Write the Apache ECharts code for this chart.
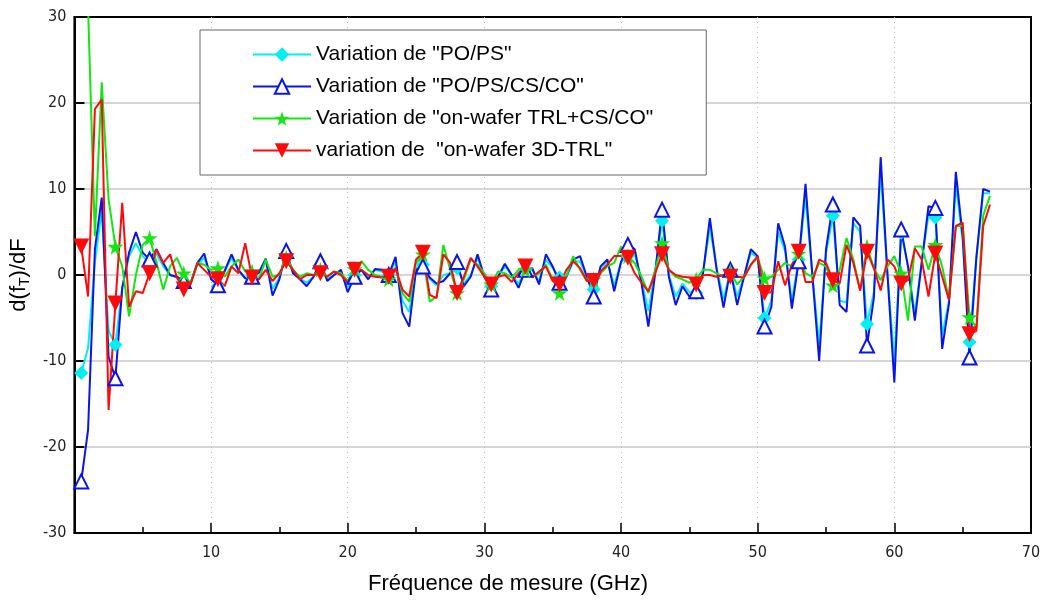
<!DOCTYPE html>
<html>
<head>
<meta charset="utf-8">
<script src="https://cdn.jsdelivr.net/npm/echarts@6/dist/echarts.min.js"></script>
<style>
  html, body { margin: 0; padding: 0; background: #fff; }
  #chart { width: 1047px; height: 606px; }
</style>
</head>
<body>
<div id="chart"></div>
<script>
// frequence de mesure (GHz)
var freq = [0.5, 1, 1.5, 2, 2.5, 3, 3.5, 4, 4.5, 5, 5.5, 6, 6.5, 7, 7.5, 8, 8.5, 9, 9.5, 10,
  10.5, 11, 11.5, 12, 12.5, 13, 13.5, 14, 14.5, 15, 15.5, 16, 16.5, 17, 17.5, 18, 18.5, 19, 19.5, 20,
  20.5, 21, 21.5, 22, 22.5, 23, 23.5, 24, 24.5, 25, 25.5, 26, 26.5, 27, 27.5, 28, 28.5, 29, 29.5, 30,
  30.5, 31, 31.5, 32, 32.5, 33, 33.5, 34, 34.5, 35, 35.5, 36, 36.5, 37, 37.5, 38, 38.5, 39, 39.5, 40,
  40.5, 41, 41.5, 42, 42.5, 43, 43.5, 44, 44.5, 45, 45.5, 46, 46.5, 47, 47.5, 48, 48.5, 49, 49.5, 50,
  50.5, 51, 51.5, 52, 52.5, 53, 53.5, 54, 54.5, 55, 55.5, 56, 56.5, 57, 57.5, 58, 58.5, 59, 59.5, 60,
  60.5, 61, 61.5, 62, 62.5, 63, 63.5, 64, 64.5, 65, 65.5, 66, 66.5, 67];

var poPs = [-11.4, -8.5, 1.5, 7.5, -6.5, -8.1, -1.5, 2.2, 3.7, 2.2, 1.4, 2.5, 1.0, 0, -0.3, -1.0, -1.0, 1.2, 2.0, -0.3,
  -1.3, 0.4, 2.0, 0.5, -0.3, -0.2, 0.2, 1.6, -1.6, -0.3, 2.5, 0.2, -0.4, -0.9, -0.2, 1.2, -0.5, 0, 0.5, -1.4,
  0, 0.6, -0.3, 0.6, 0.4, 0, 1.5, -3.0, -4.3, 0.8, 1.2, -0.5, -1.2, 0, 0.2, 0.8, -1.0, 0, 2.0, -0.2,
  -1.3, -0.2, 1.0, 0, -1.0, 0.6, 0.6, -0.7, 1.8, 0.8, -0.3, -0.2, 1.5, 1.6, -0.3, -1.7, 0.8, 1.5, -1.2, 1.5,
  2.2, 2.5, -0.5, -4.2, 0.5, 6.3, 0, -2.5, -1.0, -2.0, -2.1, 0.3, 5.5, 0.8, -2.8, 0.4, -2.5, -0.2, 2.6, 2.0,
  -5.0, -3.0, 5.0, 2.8, -3.0, 1.8, 9.0, 0, -8.0, 2.5, 6.9, -3.0, -3.2, 6.0, 5.0, -5.7, -2.0, 12, 0, -10,
  4.9, 1.0, -4.5, 1.5, 7.0, 6.7, -7.0, -3.0, 10.5, 4.0, -7.8, 2, 9.5, 9.5];

var poPsCsCo = [-24, -18, 3, 9, -9.5, -12, -1.5, 2.6, 5.0, 2.6, 1.8, 3.0, 1.4, 0, -0.2, -0.7, -0.9, 1.4, 2.5, -0.5,
  -1.2, 0.5, 2.4, 0.6, -0.4, -0.2, 0.3, 1.9, -2.4, -0.5, 2.8, 0.2, -0.5, -1.3, -0.2, 1.6, -0.7, 0, 0.6, -2.0,
  -0.2, 0.6, -0.5, 0.7, 0.6, 0, 2.1, -4.4, -6.0, 0.6, 1.0, -0.3, -1.0, -0.7, 0.2, 1.5, -1.3, -0.2, 2.4, -0.2,
  -1.7, -0.2, 1.3, 0, -1.5, 0.6, 0.8, -1.1, 2.4, 1.0, -0.9, -0.2, 1.8, 2.2, -0.2, -2.5, 1.0, 1.8, -1.9, 1.5,
  3.5, 3.0, -1.0, -6.0, 0.2, 7.6, -0.2, -3.5, -1.3, -2.5, -1.9, 0.2, 6.6, 0.6, -3.8, 0.6, -3.5, -0.2, 3.0, 2.2,
  -6.0, -3.7, 6.0, 3.3, -3.9, 1.6, 10.6, 0, -10, 3, 8.2, -3.5, -4.3, 6.7, 5.7, -8.2, -2.7, 13.7, 0, -12.5,
  5.3, 1.0, -5.3, 1.4, 8.0, 7.8, -8.6, -3.3, 12, 4.5, -9.6, 2, 10, 9.7];

var trlCsCo = [45, 31, 4.5, 22.4, 8.8, 3.3, 1.0, -4.8, 0, 3.5, 4.3, 1.5, -1.7, 1.0, 2.0, 0.2, -1.0, 1.4, 1.2, 0.6,
  0.8, -0.2, 1.0, 1.8, 0.4, 0.4, -0.5, 1.8, -0.2, 0, 2.0, 0.6, -0.2, 0.2, 0, 0.6, -0.2, 0.4, 0.2, -0.7,
  0.7, 1.6, 0.6, 0, -0.2, -0.5, 0.8, -2.1, -3.1, 1.4, 2.4, -3.1, -2.5, 3.5, 0.6, -2.1, -0.5, 1.8, 1.2, 0.2,
  -1.1, 0.4, 0.2, -0.3, 0.6, 0.6, -0.2, 0.2, 1.2, -0.5, -2.1, -0.2, 2.2, 0.6, -0.7, -0.5, 0.2, 1.0, 1.4, 3.3,
  2.2, 1.4, -0.2, -2.1, 0.6, 3.7, 0.6, -0.2, -0.5, -0.9, -0.5, 0.6, 0.6, 0.2, -0.2, 0.4, -1.1, -0.2, 1.2, 2.0,
  -0.4, -0.2, 0.6, 1.4, 1.0, 2.5, 0.2, -0.2, 1.4, 1.0, -1.2, 0.6, 4.3, 1.8, -1.8, 3.3, 0.8, -0.6, 1.0, 2.2,
  0.2, -5.3, 3.3, 3.3, 0.6, 3.5, 1.0, -2.9, 5.7, 5.7, -4.9, -6.1, 6.9, 9.2];

var trl3d = [3.3, -2.5, 19.3, 20.4, -15.7, -3.3, 8.4, -3.7, -1.9, -2.1, 0.2, 3.0, 1.4, 2.4, -0.3, -1.7, -1.1, 1.4, 0.6, -0.2,
  -0.5, -1.3, 1.0, 0.2, 3.7, -0.3, -0.5, 0.6, -0.7, 0.2, 1.6, 0.6, -0.5, 0, 0, 0.2, -0.2, 0.4, 0, -0.9,
  0.6, 0.6, 0, -0.2, -0.3, -0.2, 0.8, -1.7, -2.5, 1.8, 2.6, -2.3, -2.7, 2.4, 1.4, -2.1, -0.2, 2.0, 1.0, -0.2,
  -1.1, -0.2, 0, -0.8, 0.2, 1.0, -0.3, 0.4, 1.0, -0.7, -1.1, 0.6, 1.6, 0.8, -0.7, -0.7, 0.4, 1.2, 2.2, 2.2,
  2.0, 0.2, -0.9, -1.9, 0.2, 2.4, 0.6, 0, -0.2, -0.3, -1.1, 0, 0, -0.2, 0, -0.2, -0.2, -0.3, 1.2, 2.2,
  -2.1, -2.0, 1.6, -1.2, 1.2, 2.7, -0.8, -0.8, 1.8, 1.4, -0.6, -1.0, 3.5, 1.4, -1.8, 2.7, 0.8, -1.8, 1.8, 1.0,
  -1.0, -0.6, 3.1, 1.8, -2.5, 2.5, -0.2, -2.9, 5.7, 6.1, -6.9, -6.5, 5.7, 8.2];

var names = ['Variation de "PO/PS"', 'Variation de "PO/PS/CS/CO"',
  'Variation de "on-wafer TRL+CS/CO"', 'variation de  "on-wafer 3D-TRL"'];
var yTicks = [-30, -20, -10, 0, 10, 20, 30];
var xTicks = [0, 10, 20, 30, 40, 50, 60, 70];

var starPath = 'path://M50,0 L61,35 L98,35 L68,57 L79,91 L50,70 L21,91 L32,57 L2,35 L39,35 Z';
var tickFont = '"DejaVu Sans Condensed", "Liberation Sans", sans-serif';

// marker only every 5th point (every 2.5 GHz)
function pairs(vals) {
  return freq.map(function (f, i) {
    return i % 5 === 0 ? [f, vals[i]] : { value: [f, vals[i]], symbol: 'none' };
  });
}

var myChart = echarts.init(document.getElementById('chart'));
myChart.setOption({
  animation: false,
  grid: { left: 71, right: 16, top: 17, bottom: 73, show: true, borderColor: '#000', borderWidth: 2 },
  legend: {
    left: 200, top: 30, orient: 'vertical',
    backgroundColor: '#fff', borderColor: '#666', borderWidth: 1,
    padding: [14, 53, 14, 52],
    itemWidth: 58, itemHeight: 18, itemGap: 11,
    textStyle: { fontFamily: 'Liberation Sans', fontSize: 21, color: '#000', lineHeight: 20 },
    data: names
  },
  xAxis: {
    type: 'value', min: xTicks[0], max: xTicks[xTicks.length - 1], interval: 10,
    axisLine: { onZero: false, lineStyle: { color: '#000', width: 2 } },
    axisTick: { inside: true, length: 10, lineStyle: { color: '#000', width: 1.5 } },
    minorTick: { show: true, splitNumber: 2, length: 6, lineStyle: { color: '#000', width: 1.5 } },
    splitLine: { show: true, showMinLine: false, showMaxLine: false, lineStyle: { color: '#bbb', type: [1, 4], width: 1 } },
    axisLabel: { showMinLabel: false, margin: 12, fontFamily: tickFont, fontSize: 16, color: '#222' }
  },
  yAxis: {
    type: 'value', min: yTicks[0], max: yTicks[yTicks.length - 1], interval: 10,
    axisLine: { show: true, lineStyle: { color: '#000', width: 2 } },
    axisTick: { show: true, inside: true, length: 10, lineStyle: { color: '#000', width: 2 } },
    splitLine: { showMinLine: false, showMaxLine: false, lineStyle: { color: '#c8c8c8', width: 1.5 } },
    axisLabel: { margin: 8, fontFamily: tickFont, fontSize: 16, color: '#222' },
    name: '{a|d(f}{b|T}{a|)/dF}',
    nameLocation: 'middle', nameGap: 36,
    nameTextStyle: {
      rich: {
        a: { fontFamily: 'Liberation Sans', fontSize: 22, color: '#000' },
        b: { fontFamily: 'Liberation Sans', fontSize: 14, color: '#000', padding: [12, 0, 0, 0] }
      }
    }
  },
  graphic: [{
    type: 'text', x: 508, y: 584,
    style: {
      text: 'Fréquence de mesure (GHz)', fill: '#000',
      font: '22px "Liberation Sans"', align: 'center', verticalAlign: 'middle'
    }
  }],
  series: [
    {
      name: names[0], type: 'line', data: pairs(poPs),
      symbol: 'diamond', symbolSize: 14,
      lineStyle: { color: '#00f0f0', width: 2 },
      itemStyle: { color: '#00f0f0' }
    },
    {
      name: names[1], type: 'line', data: pairs(poPsCsCo),
      symbol: 'triangle', symbolSize: 14,
      lineStyle: { color: '#0a14e6', width: 2 },
      itemStyle: { color: '#fff', borderColor: '#0a14e6', borderWidth: 2 }
    },
    {
      name: names[2], type: 'line', data: pairs(trlCsCo),
      symbol: starPath, symbolSize: 16,
      lineStyle: { color: '#14e614', width: 2 },
      itemStyle: { color: '#14e614' }
    },
    {
      name: names[3], type: 'line', data: pairs(trl3d),
      symbol: 'triangle', symbolRotate: 180, symbolSize: 16,
      lineStyle: { color: '#ff0a0a', width: 2 },
      itemStyle: { color: '#ff0a0a' }
    }
  ]
});
</script>
</body>
</html>
